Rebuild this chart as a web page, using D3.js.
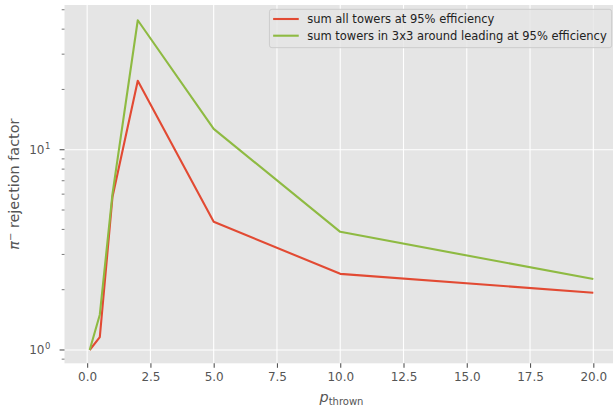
<!DOCTYPE html>
<head>
    <meta charset="utf-8">
    <title>pi- rejection factor</title>
    <style>
        html, body {
            margin: 0;
            background: white;
        }
        svg {
            display: block;
            font-family: "DejaVu Sans", sans-serif;
        }
    </style>
</head>
<body>
<script src="https://cdn.jsdelivr.net/npm/d3@7"></script>
<script>

    // p thrown values
    const pThrown = [0.1, 0.5, 1, 2, 5, 10, 20];
    // rejection factors
    const sumAll = [1.0, 1.16, 5.8, 22.1, 4.37, 2.40, 1.93];
    const sum3x3 = [1.0, 1.50, 6.0, 44.3, 12.7, 3.89, 2.26];

    const seriesNames = [
        "sum all towers at 95% efficiency",
        "sum towers in 3x3 around leading at 95% efficiency"
    ];
    const seriesColors = ["#E24A33", "#8EBA42"];

    const xTicks = [0, 2.5, 5, 7.5, 10, 12.5, 15, 17.5, 20];
    const yMajor = [1, 10];
    const yMinor = [0.9, 2, 3, 4, 5, 6, 7, 8, 9, 20, 30, 40, 50];

    const width = 613, height = 407;
    const plot = {left: 64.5, right: 618.5, top: 5, bottom: 363.3};

    const svg = d3.select("body").append("svg")
        .attr("width", width)
        .attr("height", height);

    const x = d3.scaleLinear().domain([-0.895, 20.995]).range([plot.left, plot.right]);
    const y = d3.scaleLog().domain([0.858, 52.8]).range([plot.bottom, plot.top]);

    // axes background
    svg.append("rect")
        .attr("x", plot.left).attr("y", plot.top)
        .attr("width", plot.right - plot.left)
        .attr("height", plot.bottom - plot.top)
        .attr("fill", "#E5E5E5");

    // grid
    svg.append("g").selectAll("line")
        .data(xTicks)
        .enter().append("line")
        .attr("x1", d => x(d)).attr("x2", d => x(d))
        .attr("y1", plot.top).attr("y2", plot.bottom)
        .attr("stroke", "white").attr("stroke-width", 1.1);

    svg.append("g").selectAll("line")
        .data(yMajor)
        .enter().append("line")
        .attr("x1", plot.left).attr("x2", plot.right)
        .attr("y1", d => y(d)).attr("y2", d => y(d))
        .attr("stroke", "white").attr("stroke-width", 1.1);

    // x axis
    const xAxis = d3.axisBottom(x)
        .tickValues(xTicks)
        .tickFormat(d3.format(".1f"))
        .tickSize(4.5)
        .tickPadding(4.5);

    const gx = svg.append("g")
        .attr("transform", `translate(0,${plot.bottom})`)
        .call(xAxis);
    gx.select(".domain").remove();
    gx.selectAll(".tick line").attr("stroke", "#555555").attr("stroke-width", 1.1);
    gx.selectAll(".tick text")
        .attr("fill", "#555555")
        .style("font-size", "12px")
        .style("font-family", "DejaVu Sans");

    // y axis (log) - major ticks with 10^n labels, minor ticks unlabeled
    const gy = svg.append("g");
    gy.selectAll("line.minor")
        .data(yMinor)
        .enter().append("line")
        .attr("class", "minor")
        .attr("x1", plot.left - 2.8).attr("x2", plot.left)
        .attr("y1", d => y(d)).attr("y2", d => y(d))
        .attr("stroke", "#555555").attr("stroke-width", 0.8);

    gy.selectAll("line.major")
        .data(yMajor)
        .enter().append("line")
        .attr("class", "major")
        .attr("x1", plot.left - 4.9).attr("x2", plot.left)
        .attr("y1", d => y(d)).attr("y2", d => y(d))
        .attr("stroke", "#555555").attr("stroke-width", 1.1);

    const yLabels = gy.selectAll("text")
        .data(yMajor)
        .enter().append("text")
        .attr("x", 44.5)
        .attr("y", d => y(d) + 4.5)
        .attr("text-anchor", "end")
        .attr("fill", "#555555")
        .style("font-size", "12px");
    yLabels.text("10");
    yLabels.append("tspan")
        .attr("x", 45)
        .attr("dy", -5.5)
        .attr("text-anchor", "start")
        .style("font-size", "8.5px")
        .text(d => Math.round(Math.log10(d)));

    // lines
    const line = d3.line()
        .x(d => x(d[0]))
        .y(d => y(d[1]));

    [sumAll, sum3x3].forEach((vals, i) => {
        svg.append("path")
            .datum(pThrown.map((p, j) => [p, vals[j]]))
            .attr("d", line)
            .attr("fill", "none")
            .attr("stroke", seriesColors[i])
            .attr("stroke-width", 2.1)
            .attr("stroke-linejoin", "round");
    });

    // axis labels
    const xl = svg.append("text")
        .attr("x", (plot.left + plot.right) / 2)
        .attr("y", 402)
        .attr("text-anchor", "middle")
        .attr("fill", "#555555")
        .style("font-size", "14.4px");
    xl.append("tspan").style("font-style", "italic").text("p");
    xl.append("tspan").attr("dy", 3).style("font-size", "10px").text("thrown");

    const yl = svg.append("text")
        .attr("transform", `translate(19,${(plot.top + plot.bottom) / 2}) rotate(-90)`)
        .attr("text-anchor", "middle")
        .attr("fill", "#555555")
        .style("font-size", "14.4px");
    yl.append("tspan").style("font-style", "italic").text("π");
    yl.append("tspan").attr("dy", -5).style("font-size", "10px").text("−");
    yl.append("tspan").attr("dy", 5).text(" rejection factor");

    // legend
    const legend = svg.append("g");
    const legendBox = legend.append("rect")
        .attr("rx", 2.5)
        .attr("fill", "#E5E5E5")
        .attr("fill-opacity", 0.8)
        .attr("stroke", "#CCCCCC")
        .attr("stroke-width", 1);

    const rows = legend.selectAll("g.row")
        .data(seriesNames)
        .enter().append("g")
        .attr("class", "row")
        .attr("transform", (d, i) => `translate(0,${19 + i * 16.7})`);

    rows.append("line")
        .attr("x1", 0).attr("x2", 25.6)
        .attr("stroke", (d, i) => seriesColors[i])
        .attr("stroke-width", 2.1);

    rows.append("text")
        .attr("x", 34)
        .attr("y", 4)
        .attr("fill", "#222222")
        .style("font-size", "11.5px")
        .text(d => d);

    const textW = d3.max(rows.selectAll("text").nodes(), n => n.getComputedTextLength());
    const boxRight = 611.7;
    const boxW = textW + 34 + 3.7 + 5;
    const boxLeft = boxRight - boxW;
    legendBox.attr("x", boxLeft).attr("y", 9.3).attr("width", boxW).attr("height", 38.4);
    rows.attr("transform", (d, i) => `translate(${boxLeft + 3.7},${19 + i * 16.7})`);

</script>
</body>
